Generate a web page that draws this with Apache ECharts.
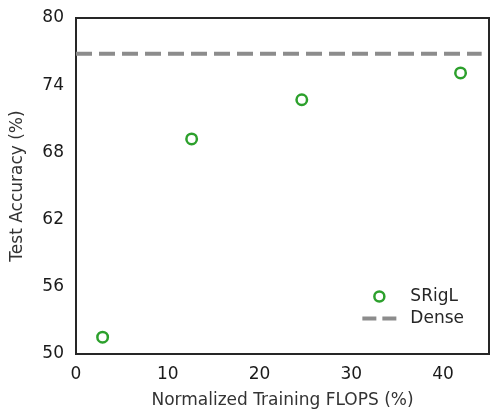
<!DOCTYPE html>
<html>
<head>
<meta charset="utf-8">
<script src="https://cdn.jsdelivr.net/npm/echarts@6/dist/echarts.min.js"></script>
<style>
  html, body { margin: 0; padding: 0; background: #fff; }
  #main { width: 490px; height: 415px; }
</style>
</head>
<body>
<div id="main"></div>
<script>
// data
var flops = [2.9, 12.6, 24.6, 41.9];
var acc = [51.5, 69.2, 72.7, 75.1];
var denseAcc = 76.8;
var denseSpan = [0, 44.2];

var srigl = [];
for (var i = 0; i < flops.length; i++) {
  srigl.push([flops[i], acc[i]]);
}

var myChart = echarts.init(document.getElementById('main'));
var font = 'DejaVu Sans';
var green = '#2ca02c';
var gray = '#8c8c8c';

var option = {
  animation: false,
  grid: {
    left: 76, top: 18, right: 1, bottom: 61,
    show: true, borderColor: '#262626', borderWidth: 2
  },
  legend: {
    right: 21, top: 283,
    orient: 'vertical',
    itemGap: 5,
    itemWidth: 34,
    itemHeight: 10,
    formatter: '{t|{name}}',
    textStyle: {
      fontFamily: font, fontSize: 17, color: '#262626',
      rich: { t: { fontFamily: font, fontSize: 17, color: '#262626', padding: [0, 0, 0, 9] } }
    },
    data: [
      { name: 'SRigL', icon: 'circle', itemStyle: { color: '#fff', borderColor: green, borderWidth: 2.5 } },
      { name: 'Dense', icon: 'path://M0,0H14V4H0Z M20,0H34V4H20Z', itemStyle: { color: gray, borderWidth: 0 } }
    ]
  },
  xAxis: {
    type: 'value',
    min: 0, max: 45, interval: 10,
    name: 'Normalized Training FLOPS (%)',
    nameLocation: 'middle',
    nameGap: 38,
    nameTextStyle: { fontFamily: font, fontSize: 17, color: '#333' },
    axisLine: { show: true, lineStyle: { color: '#262626', width: 2 } },
    axisTick: { show: false },
    splitLine: { show: false },
    axisLabel: { fontFamily: font, fontSize: 17, color: '#1a1a1a', margin: 12, showMaxLabel: false }
  },
  yAxis: {
    type: 'value',
    min: 50, max: 80, interval: 6,
    name: 'Test Accuracy (%)',
    nameLocation: 'middle',
    nameGap: 50,
    nameTextStyle: { fontFamily: font, fontSize: 17, color: '#333' },
    axisLine: { show: true, lineStyle: { color: '#262626', width: 2 } },
    axisTick: { show: false },
    splitLine: { show: false },
    axisLabel: { fontFamily: font, fontSize: 17, color: '#1a1a1a', margin: 12 }
  },
  series: [
    {
      name: 'SRigL',
      type: 'scatter',
      symbol: 'circle',
      symbolSize: 10.5,
      itemStyle: { color: '#fff', borderColor: green, borderWidth: 2.5, opacity: 1 },
      data: srigl,
      z: 3
    },
    {
      name: 'Dense',
      type: 'line',
      symbol: 'none',
      lineStyle: { color: gray, width: 4, type: [16, 7] },
      itemStyle: { color: gray },
      data: [[denseSpan[0], denseAcc], [denseSpan[1], denseAcc]]
    }
  ]
};

myChart.setOption(option);
</script>
</body>
</html>
